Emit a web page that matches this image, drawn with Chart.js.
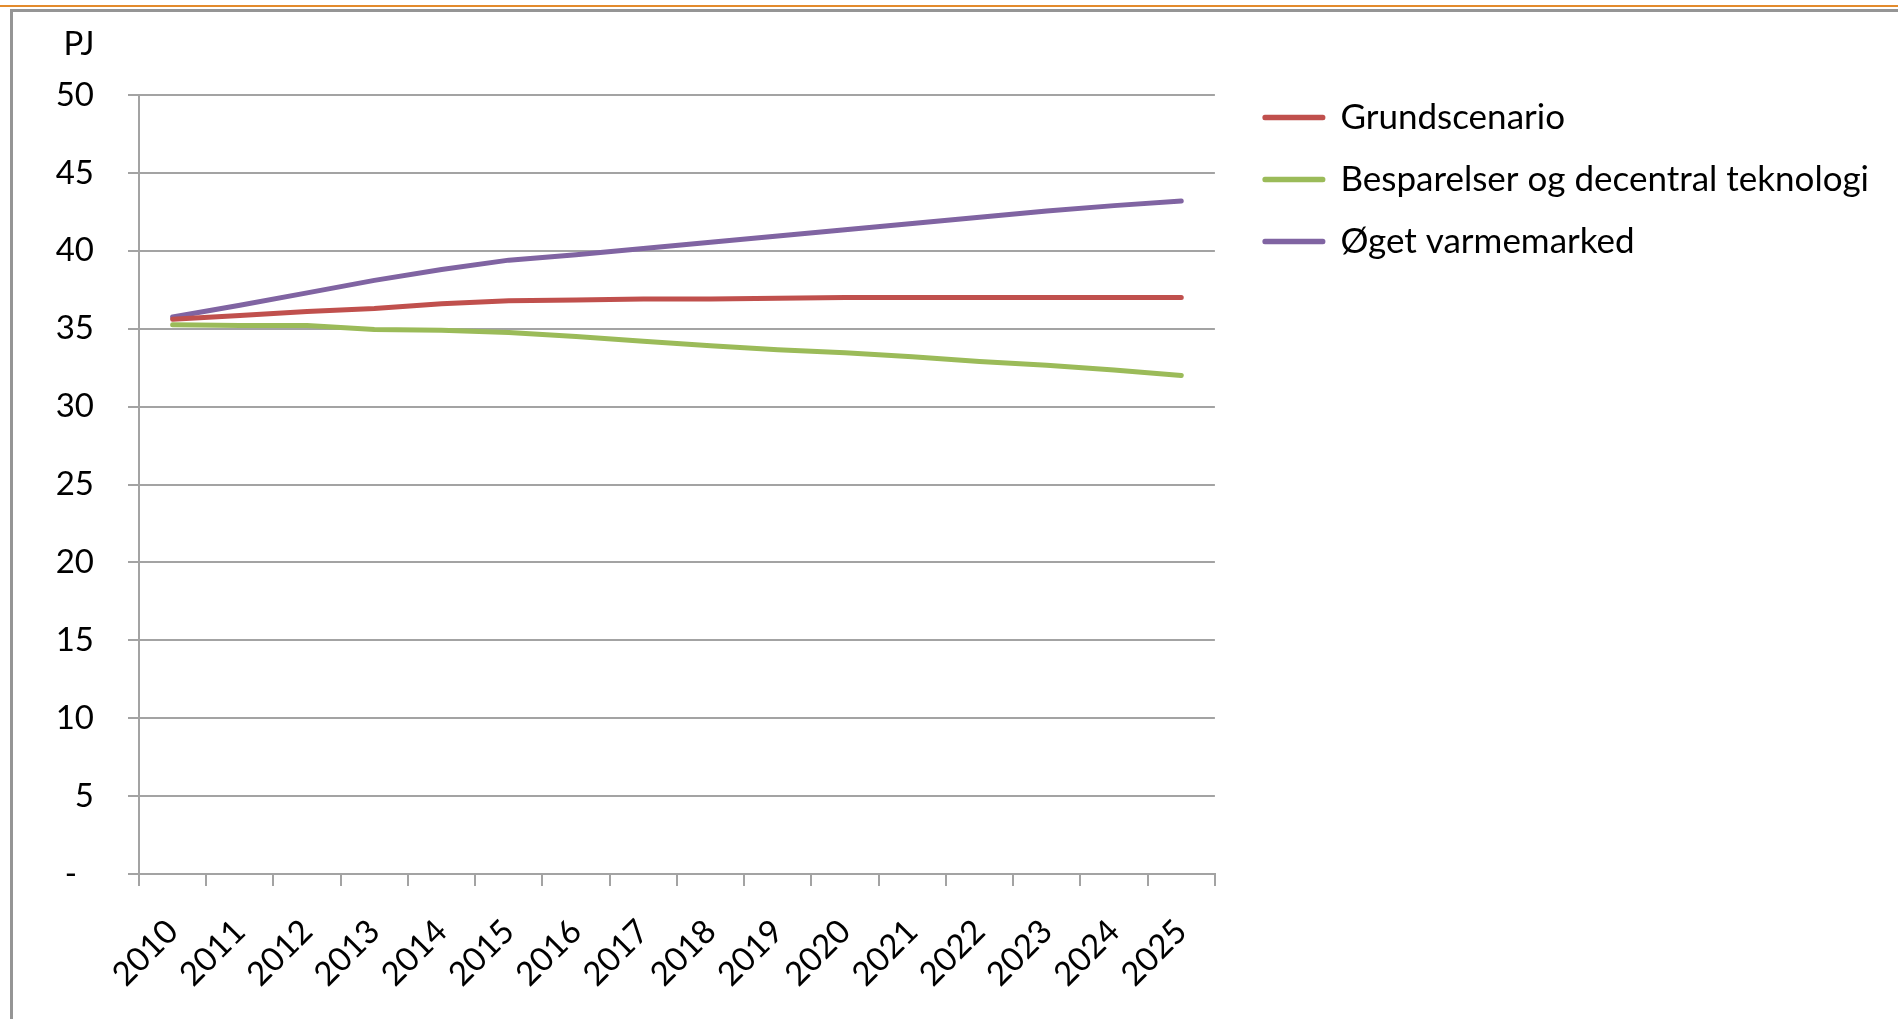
<!DOCTYPE html>
<html>
<head>
<meta charset="utf-8">
<script src="https://cdn.jsdelivr.net/npm/chart.js@4.4.1/dist/chart.umd.min.js"></script>
<style>
  html, body { margin: 0; padding: 0; background: #fff; overflow: hidden; }
  #orange { position: absolute; left: 0; top: 5px; width: 1898px; height: 2px; background: #e38b2c; }
  #frameTop { position: absolute; left: 10px; top: 9px; width: 1888px; height: 3px; background: #959595; }
  #frameLeft { position: absolute; left: 10px; top: 9px; width: 3px; height: 1010px; background: #959595; }
  #chart { position: absolute; left: 0; top: 0; }
</style>
</head>
<body>
<div id="orange"></div>
<div id="frameTop"></div>
<div id="frameLeft"></div>
<canvas id="chart" width="1898" height="1019"></canvas>
<script>
const years = ["2010", "2011", "2012", "2013", "2014", "2015", "2016", "2017",
  "2018", "2019", "2020", "2021", "2022", "2023", "2024", "2025"];

const grundscenario = [35.6, 35.85, 36.1, 36.3, 36.6, 36.8, 36.85, 36.9,
  36.9, 36.95, 37.0, 37.0, 37.0, 37.0, 37.0, 37.0];
const besparelser = [35.25, 35.2, 35.2, 34.95, 34.9, 34.75, 34.5, 34.2,
  33.9, 33.65, 33.45, 33.2, 32.9, 32.65, 32.35, 32.0];
const oegetVarme = [35.75, 36.5, 37.3, 38.1, 38.8, 39.4, 39.75, 40.15,
  40.55, 40.95, 41.35, 41.75, 42.15, 42.55, 42.9, 43.2];

const seriesNames = ["Grundscenario", "Besparelser og decentral teknologi", "Øget varmemarked"];
const yMin = 0;
const yMax = 50;
const yStep = 5;

const font = "Lato";
const gridColor = "#a3a3a3";

// legend sizing: keep the plot's right edge at x=1214 whatever the text width is
const legendFont = 35;
const legendPad = 27;
const legendBox = 58;
const gapWidth = 23;
const measure = document.createElement("canvas").getContext("2d");
measure.font = legendFont + "px " + font;
const widestName = Math.max(...seriesNames.map((n) => measure.measureText(n).width));
const legendWidth = Math.ceil(legendPad + legendBox + legendFont / 2 + widestName + 10);
const rightPad = Math.max(0, 1898 - 1214 - gapWidth - legendWidth);

function line(label, data, color) {
  return {
    label: label,
    data: data,
    borderColor: color,
    backgroundColor: color,
    borderWidth: 5,
    borderCapStyle: "round",
    borderJoinStyle: "round",
    pointRadius: 0,
    tension: 0,
    fill: false,
  };
}

new Chart(document.getElementById("chart"), {
  type: "line",
  data: {
    labels: years,
    datasets: [
      line(seriesNames[0], grundscenario, "#c0504d"),
      line(seriesNames[1], besparelser, "#9bbb59"),
      line(seriesNames[2], oegetVarme, "#8064a2"),
    ],
  },
  options: {
    responsive: false,
    animation: false,
    devicePixelRatio: 1,
    layout: { padding: { top: 10, left: 55, right: rightPad, bottom: 0 } },
    scales: {
      x: {
        offset: true,
        grid: {
          offset: true,
          drawOnChartArea: false,
          drawTicks: true,
          tickLength: 12,
          color: gridColor,
          lineWidth: 2,
        },
        border: { display: true, color: gridColor, width: 2 },
        ticks: {
          minRotation: 45,
          maxRotation: 45,
          padding: 26,
          color: "#000",
          font: { family: font, size: 33 },
        },
        afterFit: (scale) => { scale.height = 145; },
      },
      y: {
        min: yMin,
        max: yMax,
        grid: { color: gridColor, lineWidth: 2, tickLength: 11 },
        border: { display: true, color: gridColor, width: 2 },
        ticks: {
          stepSize: yStep,
          padding: 34,
          color: "#000",
          font: { family: font, size: 33 },
          callback: (v) => (v === 0 ? "-\u00a0\u00a0" : v),
        },
        afterFit: (scale) => { scale.width = 84; },
      },
      gapRight: {
        type: "linear",
        position: "right",
        display: true,
        grid: { display: false, drawTicks: false },
        border: { display: false },
        ticks: { display: false },
        afterFit: (scale) => { scale.width = gapWidth; },
      },
    },
    plugins: {
      title: {
        display: true,
        text: "\u00a0PJ",
        align: "start",
        color: "#000",
        font: { family: font, size: 33, weight: "normal", lineHeight: 1 },
        padding: { top: 17.5, bottom: 34.5 },
      },
      legend: {
        position: "right",
        align: "start",
        maxWidth: legendWidth,
        title: {
          display: true,
          text: "",
          font: { size: 10, lineHeight: 1 },
          padding: { top: 53, bottom: 0 },
        },
        labels: {
          boxWidth: legendBox,
          boxHeight: 0.5,
          padding: legendPad,
          color: "#000",
          font: { family: font, size: legendFont },
        },
      },
      tooltip: { enabled: false },
    },
  },
});
</script>
</body>
</html>
